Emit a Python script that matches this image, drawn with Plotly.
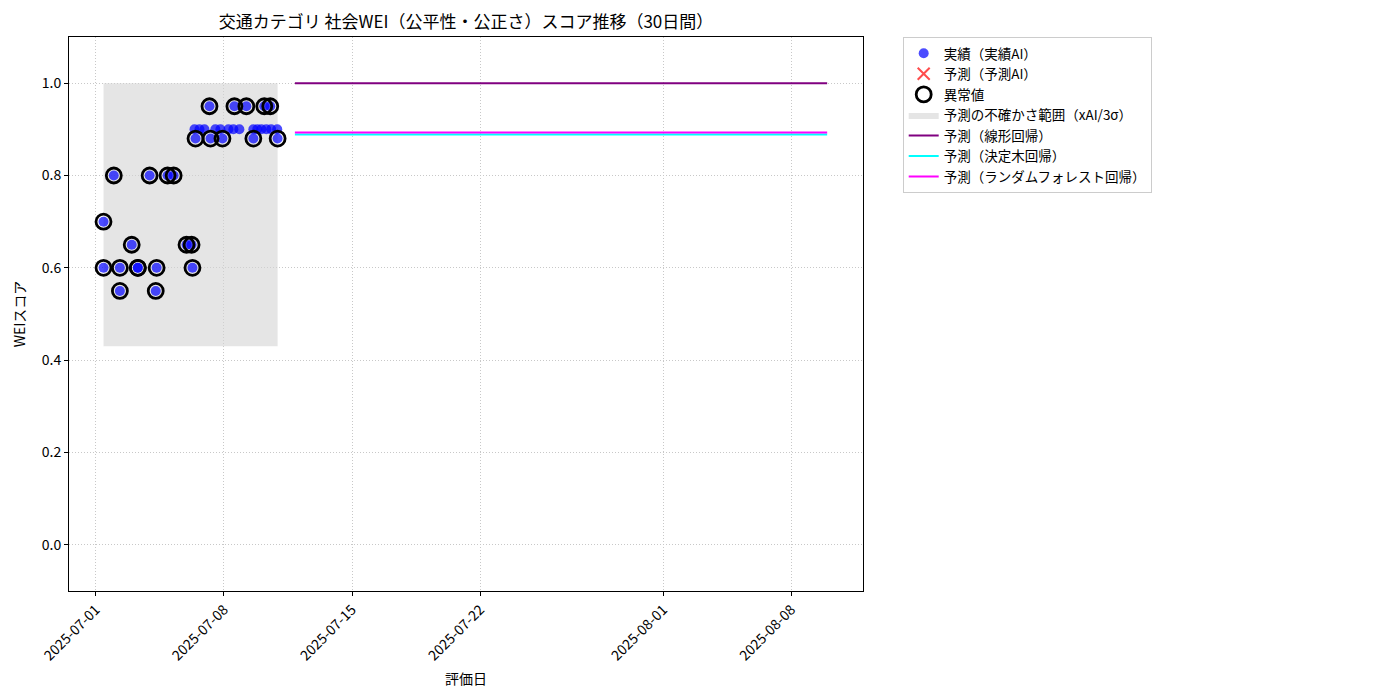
import plotly.graph_objects as go

# actual observations (実績AI)
actual_dates = [
    "2025-07-01 10:00", "2025-07-01 10:00", "2025-07-01 23:30", "2025-07-02 07:30",
    "2025-07-02 07:30", "2025-07-02 23:00", "2025-07-03 07:00", "2025-07-03 07:00",
    "2025-07-03 22:30", "2025-07-04 06:30", "2025-07-04 07:40", "2025-07-04 22:00",
    "2025-07-05 06:00", "2025-07-05 22:50", "2025-07-06 05:30", "2025-07-06 06:40",
    "2025-07-06 09:20", "2025-07-06 10:40", "2025-07-06 15:50", "2025-07-06 22:20",
    "2025-07-07 05:00", "2025-07-07 06:20", "2025-07-07 12:40", "2025-07-07 19:20",
    "2025-07-07 22:00", "2025-07-08 05:50", "2025-07-08 12:20", "2025-07-08 13:40",
    "2025-07-08 20:10", "2025-07-09 05:20", "2025-07-09 14:30", "2025-07-09 14:30",
    "2025-07-09 19:40", "2025-07-10 01:00", "2025-07-10 04:50", "2025-07-10 07:30",
    "2025-07-10 12:40", "2025-07-10 13:50", "2025-07-10 21:50", "2025-07-10 22:20",
]
actual_scores = [
    0.70, 0.60, 0.80, 0.60,
    0.55, 0.65, 0.60, 0.60,
    0.80, 0.55, 0.60, 0.80,
    0.80, 0.65, 0.65, 0.60,
    0.90, 0.88, 0.90, 0.90,
    0.95, 0.88, 0.90, 0.90,
    0.88, 0.90, 0.90, 0.95,
    0.90, 0.95, 0.88, 0.90,
    0.90, 0.90, 0.95, 0.90,
    0.95, 0.90, 0.90, 0.88,
]
is_anomaly = [
    1, 1, 1, 1,
    1, 1, 1, 1,
    1, 1, 1, 1,
    1, 1, 1, 1,
    0, 1, 0, 0,
    1, 1, 0, 0,
    1, 0, 0, 1,
    0, 1, 1, 0,
    0, 0, 1, 0,
    1, 0, 0, 1,
]

# uncertainty band over the observed period
band_dates = ["2025-07-01 10:00", "2025-07-10 22:20"]
band_lower = [0.43, 0.43]
band_upper = [1.0, 1.0]

# forecasts
forecast_dates = ["2025-07-11 21:00", "2025-08-09 23:00"]
linear_pred = [1.0, 1.0]
tree_pred = [0.889, 0.889]
forest_pred = [0.893, 0.893]

x_ticks = ["2025-07-01", "2025-07-08", "2025-07-15", "2025-07-22", "2025-08-01", "2025-08-08"]

FONT = "Noto Sans CJK JP, Noto Sans, DejaVu Sans"

fig = go.Figure()

# band first so it sits under everything (legendrank keeps the legend order)
fig.add_trace(go.Scatter(
    x=band_dates + band_dates[::-1], y=band_lower + band_upper[::-1],
    mode="lines", line=dict(width=0), fill="toself",
    fillcolor="rgba(211,211,211,0.6)", hoverinfo="skip",
    name="予測の不確かさ範囲（xAI/3σ）", legendrank=4,
))

fig.add_trace(go.Scatter(
    x=actual_dates, y=actual_scores, mode="markers",
    marker=dict(size=10, color="rgba(0,0,255,0.7)", line=dict(width=0)),
    name="実績（実績AI）", legendrank=1,
))

fig.add_trace(go.Scatter(
    x=[None], y=[None], mode="markers",
    marker=dict(symbol="x-thin", size=12, line=dict(width=2, color="rgba(255,0,0,0.7)")),
    name="予測（予測AI）", legendrank=2,
))

anom_x = [d for d, a in zip(actual_dates, is_anomaly) if a]
anom_y = [v for v, a in zip(actual_scores, is_anomaly) if a]
fig.add_trace(go.Scatter(
    x=anom_x, y=anom_y, mode="markers",
    marker=dict(symbol="circle-open", size=15, color="black", line=dict(width=2.8, color="black")),
    name="異常値", legendrank=3,
))

fig.add_trace(go.Scatter(
    x=forecast_dates, y=linear_pred, mode="lines",
    line=dict(color="purple", width=2), name="予測（線形回帰）", legendrank=5,
))
fig.add_trace(go.Scatter(
    x=forecast_dates, y=tree_pred, mode="lines",
    line=dict(color="cyan", width=2), name="予測（決定木回帰）", legendrank=6,
))
fig.add_trace(go.Scatter(
    x=forecast_dates, y=forest_pred, mode="lines",
    line=dict(color="magenta", width=2), name="予測（ランダムフォレスト回帰）", legendrank=7,
))

axis_style = dict(
    showline=True, linecolor="black", linewidth=1, mirror=True,
    ticks="outside", ticklen=4, tickcolor="black",
    showgrid=True, gridcolor="#c8c8c8", griddash="1px,2px", gridwidth=1,
    zeroline=False, tickfont=dict(size=14, color="black"),
)

# page body has an 8px margin, so margins are shifted to line up with the reference
fig.update_layout(
    width=1400, height=700,
    font=dict(family=FONT, size=14, color="black"),
    plot_bgcolor="white", paper_bgcolor="white",
    margin=dict(l=57, r=545, t=29, b=117),
    title=dict(
        text="交通カテゴリ 社会WEI（公平性・公正さ）スコア推移（30日間）",
        x=0.5, xref="paper", xanchor="center",
        y=1 - 14 / 700, yref="container", yanchor="middle",
        font=dict(size=17),
    ),
    xaxis=dict(
        axis_style,
        type="date", range=["2025-06-29 12:45", "2025-08-11 22:00"],
        tickvals=x_ticks, tickformat="%Y-%m-%d", tickangle=-45,
        title=dict(text="評価日", font=dict(size=14), standoff=10),
    ),
    yaxis=dict(
        axis_style,
        range=[-0.1, 1.1], tick0=0, dtick=0.2, tickformat=".1f",
        title=dict(text="WEIスコア", font=dict(size=14), standoff=12),
    ),
    legend=dict(
        x=1.05, y=1.0, xanchor="left", yanchor="top",
        bordercolor="#cccccc", borderwidth=1, bgcolor="white",
        font=dict(size=13.5), traceorder="normal", tracegroupgap=0,
    ),
    showlegend=True,
)

fig.write_html("out.html")
